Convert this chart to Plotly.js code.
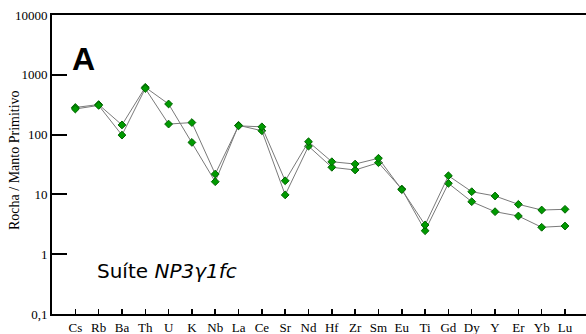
<!DOCTYPE html>
<html>
<head>
<meta charset="utf-8">
<script src="https://cdn.plot.ly/plotly-3.0.1.min.js"></script>
<style>html,body{margin:0;padding:0;background:#fff;overflow:hidden}#chart{width:586px;height:334px}</style>
</head>
<body>
<div id="chart"></div>
<script>
const elements = ["Cs","Rb","Ba","Th","U","K","Nb","La","Ce","Sr","Nd","Hf","Zr","Sm","Eu","Ti","Gd","Dy","Y","Er","Yb","Lu"];
const sampleA = [284,318,145,618,325,74,16.3,143,116,9.8,64,28.4,25.6,33.9,12.3,2.47,15.3,7.55,5.14,4.35,2.82,2.96];
const sampleB = [268,308,98,590,150,159,21.9,140,135,16.9,76,35.2,32.2,40.2,12.0,3.08,20.5,11.1,9.4,6.82,5.48,5.63];
const yTickVals = [0.1,1,10,100,1000,10000];
const yTickText = ["0,1","1","10","100","1000","10000"];

const L = 52, W = 534, T = 15, H = 299;
function mk(y){
  return {
    x: elements, y: y, type: 'scatter', mode: 'lines+markers',
    line: {color: '#7a7a7a', width: 1},
    marker: {symbol: 'diamond', size: 6, color: '#009a00', line: {color: '#006400', width: 1}},
    hoverinfo: 'skip', showlegend: false
  };
}
const data = [mk(sampleA), mk(sampleB)];
const serif = 'Liberation Serif, Times New Roman, serif';
const layout = {
  width: 586, height: 334,
  margin: {l: L, r: 0, t: T, b: 20},
  paper_bgcolor: '#fff', plot_bgcolor: '#fff',
  xaxis: {
    type: 'category', range: [-1, 21.9],
    showgrid: false, zeroline: false,
    showline: true, linecolor: '#000', linewidth: 2, mirror: true,
    ticks: 'inside', ticklen: 5, tickwidth: 1.5, tickcolor: '#000',
    tickfont: {family: serif, size: 13, color: '#000'}
  },
  yaxis: {
    type: 'log', range: [-1, 4],
    showgrid: false, zeroline: false,
    showline: true, linecolor: '#000', linewidth: 2,
    ticks: 'inside', ticklen: 15, tickwidth: 2, tickcolor: '#000',
    tickmode: 'array', tickvals: yTickVals, ticktext: yTickText,
    tickfont: {family: serif, size: 13, color: '#000'}
  },
  annotations: [
    {text: 'Rocha / Manto Primitivo', xref: 'paper', yref: 'paper',
     x: (14 - L) / W, y: 0.515, xanchor: 'center', yanchor: 'middle',
     textangle: -90, showarrow: false, font: {family: serif, size: 14, color: '#000'}},
    {text: '<b>A</b>', xref: 'paper', yref: 'paper',
     x: (83.5 - L) / W, y: (T + H - 43.5 - T) / H, xanchor: 'center', yanchor: 'middle',
     showarrow: false, font: {family: 'Liberation Sans, Arial, sans-serif', size: 32, color: '#000'}},
    {text: 'Suíte <i>NP3γ1fc</i>', xref: 'paper', yref: 'paper',
     x: (95 - L) / W, y: (T + H - 271) / H, xanchor: 'left', yanchor: 'middle',
     showarrow: false, font: {family: 'DejaVu Sans, Verdana, sans-serif', size: 20, color: '#000'}}
  ]
};
Plotly.newPlot('chart', data, layout, {displayModeBar: false, staticPlot: true});
</script>
</body>
</html>
